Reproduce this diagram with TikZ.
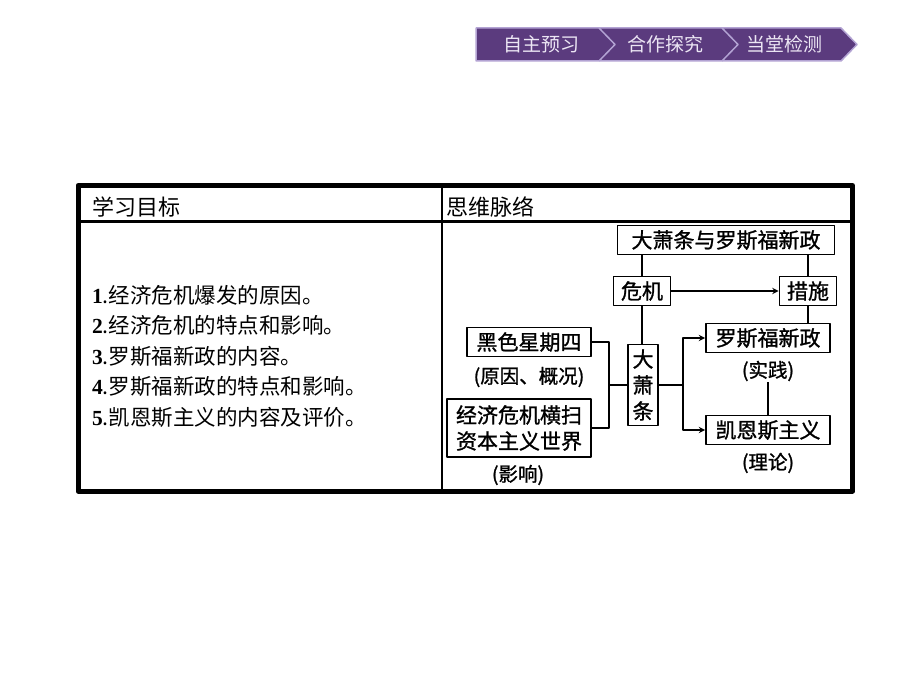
\documentclass[tikz,border=0pt]{standalone}
\usepackage{fontspec}
\newfontfamily\cjk{Noto Sans CJK SC}
\newfontfamily\cjkmid[FakeBold=1.2]{Noto Sans CJK SC}
\newfontfamily\numfont{Liberation Serif}
\definecolor{bannerfill}{HTML}{5B3B7E}
\definecolor{bannerline}{HTML}{B3A3D3}
\definecolor{bannertext}{HTML}{ECE6F4}
\begin{document}
\begin{tikzpicture}[x=1pt,y=-1pt,>=stealth,line join=round,
	box/.style={draw,line width=1.8pt,inner xsep=3pt,inner ysep=0pt,minimum height=29pt,font=\cjkmid\fontsize{21}{26}\selectfont},
	note/.style={inner sep=1pt,font=\cjkmid\fontsize{19.5}{22}\selectfont},
	link/.style={line width=1.8pt},
	goal/.style={anchor=west,inner sep=0pt,font=\cjk\fontsize{21.5}{24}\selectfont}]
	\useasboundingbox (0,0) rectangle (920,690);
	% banner
	\draw[fill=bannerfill,draw=bannerline,line width=1.5pt] (476,28)--(841,28)--(857,44.5)--(841,61)--(476,61)--cycle;
	\draw[bannerline,line width=1.5pt] (599,28)--(615,44.5)--(599,61) (722,28)--(738,44.5)--(722,61);
	\node[text=bannertext,font=\cjk\fontsize{19}{22}\selectfont] (tab1) at (541,44.5) {自主预习};
	\node[text=bannertext,font=\cjk\fontsize{19}{22}\selectfont] (tab2) at (665,44.5) {合作探究};
	\node[text=bannertext,font=\cjk\fontsize{19}{22}\selectfont] (tab3) at (784,44.5) {当堂检测};
	% table
	\draw[line width=5pt] (78,185.5) rectangle (852.5,491);
	\draw[line width=2.5pt] (78,221.5)--(852.5,221.5) (442,185.5)--(442,491);
	\node[goal,font=\cjk\fontsize{22}{24}\selectfont] (headL) at (92,207) {学习目标};
	\node[goal,font=\cjk\fontsize{22}{24}\selectfont] (headR) at (446,207) {思维脉络};
	\node[goal] (g1) at (92,295) {\textbf{\numfont 1}.经济危机爆发的原因。};
	\node[goal] (g2) at (92,325) {\textbf{\numfont 2}.经济危机的特点和影响。};
	\node[goal] (g3) at (92,356) {\textbf{\numfont 3}.罗斯福新政的内容。};
	\node[goal] (g4) at (92,386) {\textbf{\numfont 4}.罗斯福新政的特点和影响。};
	\node[goal] (g5) at (92,417) {\textbf{\numfont 5}.凯恩斯主义的内容及评价。};
	% mind map
	\node[box,minimum width=217pt] (title) at (726,240) {大萧条与罗斯福新政};
	\node[box,minimum width=57pt] (crisis) at (642,291) {危机};
	\node[box,minimum width=57pt] (measure) at (808,291) {措施};
	\node[box,minimum width=124pt] (newdeal) at (768,338) {罗斯福新政};
	\node[box,minimum width=124pt] (keynes) at (768,430) {凯恩斯主义};
	\node[box,minimum width=30pt,minimum height=81pt,align=center] (slump) at (643,385) {大\\萧\\条};
	\node[box,minimum width=124pt] (thursday) at (529,342) {黑色星期四};
	\node[box,minimum width=144pt,minimum height=58pt,align=center] (sweep) at (519,428) {经济危机横扫\\资本主义世界};
	\node[note] (cause) at (529,377) {(原因、概况)};
	\node[note] (impact) at (518,475) {(影响)};
	\node[note] (practice) at (768,371) {(实践)};
	\node[note] (theory) at (768,463) {(理论)};
	\coordinate (join) at (609,385);
	\coordinate (fork) at (683,385);
	\draw[link] (crisis.north |- title.south)--(crisis.north);
	\draw[link] (measure.north |- title.south)--(measure.north);
	\draw[link,->] (crisis)--(measure);
	\draw[link] (crisis.south)--(crisis.south |- slump.north);
	\draw[link] (measure.south)--(measure.south |- newdeal.north);
	\draw[link] (thursday.east) -| (join) |- (sweep.east);
	\draw[link] (join)--(slump.west);
	\draw[link] (slump.east)--(fork);
	\draw[link,->] (fork) |- (newdeal.west);
	\draw[link,->] (fork) |- (keynes.west);
	\draw[link] (practice.south)--(keynes.north);
\end{tikzpicture}
\end{document}
